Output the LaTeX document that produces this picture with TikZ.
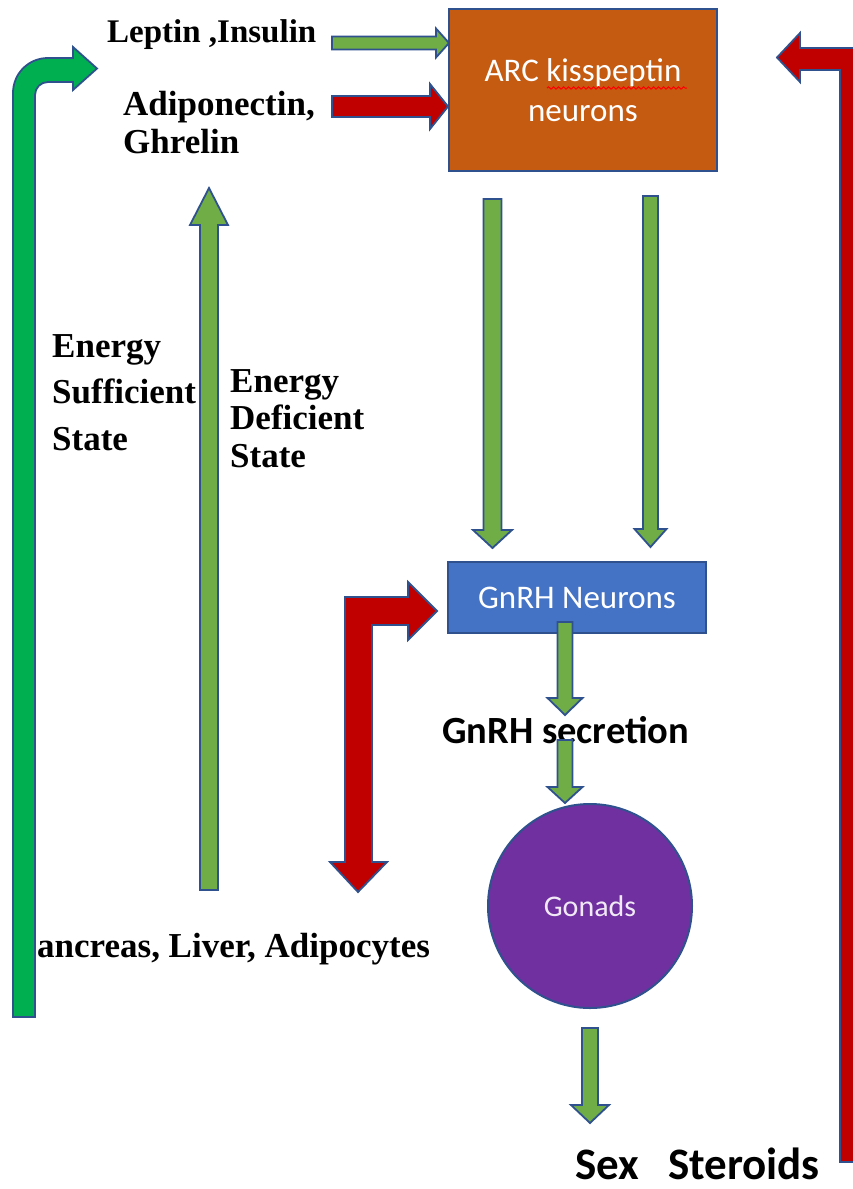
\documentclass[tikz,border=0pt]{standalone}
\usepackage{fontspec}
\setmainfont{Liberation Serif}
\newfontfamily\calib{Carlito}
\usetikzlibrary{decorations.pathmorphing}
\definecolor{edge}{HTML}{2F528F}
\definecolor{lgreen}{HTML}{70AD47}
\definecolor{bgreen}{HTML}{00B050}
\definecolor{dred}{HTML}{C00000}
\definecolor{orng}{HTML}{C55A11}
\definecolor{gblue}{HTML}{4472C4}
\definecolor{purp}{HTML}{7030A0}
\newcommand\vblock[7]{% style, x, ytail, ytip, shaft half, head half, head len
  \pgfmathsetmacro\myhb{#4-#7*sign(#4-#3)}%
  \draw[#1] (#2-#5,#3) -- (#2-#5,\myhb) -- (#2-#6,\myhb) -- (#2,#4) -- (#2+#6,\myhb) -- (#2+#5,\myhb) -- (#2+#5,#3) -- cycle;}
\newcommand\hblock[7]{% style, y, xtail, xtip, shaft half, head half, head len
  \pgfmathsetmacro\myhb{#4-#7*sign(#4-#3)}%
  \draw[#1] (#3,#2-#5) -- (\myhb,#2-#5) -- (\myhb,#2-#6) -- (#4,#2) -- (\myhb,#2+#6) -- (\myhb,#2+#5) -- (#3,#2+#5) -- cycle;}
\begin{document}
\begin{tikzpicture}[x=1pt,y=-1pt,
  garr/.style={fill=lgreen, draw=edge, line width=1.8pt, line join=miter},
  barr/.style={fill=bgreen, draw=edge, line width=1.8pt, line join=miter},
  rarr/.style={fill=dred, draw=edge, line width=1.8pt, line join=miter},
  serif/.style={inner sep=0pt, anchor=base west, align=left, text=black},
  boxtext/.style={text=white, font=\calib\fontsize{33}{40}\selectfont, align=center}]
\useasboundingbox[fill=white] (0,0) rectangle (853,1189);

% boxes
\node[boxtext, draw=edge, line width=2pt, fill=orng, minimum width=268pt, minimum height=162pt, inner sep=0pt] (arc) at (583,90) {ARC kisspeptin\\neurons};
\draw[red, line width=1pt, decorate, decoration={snake, amplitude=1.2pt, segment length=5pt}] (547,88) -- (687,88);
\node[boxtext, draw=edge, line width=2pt, fill=gblue, minimum width=258pt, minimum height=71pt, inner sep=0pt] (gnrh) at (577,597.5) {GnRH Neurons};
\node[circle, draw=edge, line width=2pt, fill=purp, minimum size=204pt, inner sep=0pt, text={white!90!purp}, font=\calib\fontsize{30}{32}\selectfont] (gon) at (590,906) {Gonads};

% texts (anchor = baseline of the last line)
\node[serif, font=\bfseries\fontsize{33}{38}\selectfont] (lep) at (107,42) {Leptin ,Insulin};
\node[serif, font=\bfseries\fontsize{35}{38}\selectfont] (adi) at (123,153) {Adiponectin,\\Ghrelin};
\node[serif, font=\bfseries\fontsize{35}{46.5}\selectfont] (suf) at (52,450) {Energy\\Sufficient\\State};
\node[serif, font=\bfseries\fontsize{35}{37.5}\selectfont] (def) at (230,467) {Energy\\Deficient\\State};
\node[serif, font=\bfseries\fontsize{35}{38}\selectfont] (pan) at (37,957) {ancreas, Liver, Adipocytes};
\node[serif, font=\calib\bfseries\fontsize{38.5}{40}\selectfont] (sec) at (442,743) {GnRH secretion};
\node[serif, font=\calib\bfseries\fontsize{45}{48}\selectfont] (sex) at (575,1179) {Sex\hspace{29pt}Steroids};

% block arrows
\hblock{garr}{43}{332}{449}{6.5}{14.5}{13}
\hblock{rarr}{106.5}{332}{448}{10.5}{22.5}{18}
\vblock{garr}{209}{890}{188}{9}{19}{37}
\vblock{garr}{492.5}{199}{548}{9}{19.5}{18}
\vblock{garr}{650.5}{196}{547}{7.5}{16}{18}
\vblock{garr}{565}{622}{715}{7.5}{17.5}{17}
\vblock{garr}{565}{740}{803}{7.5}{17.5}{16}
\vblock{garr}{590}{1028}{1123}{8}{19}{18}

% left bent green arrow
\draw[barr] (13,1017) -- (13,93) .. controls (13,73.7) and (28.3,58) .. (48,58) -- (73,58) -- (73,47) -- (97,68.5) -- (73,90) -- (73,82) -- (48,82) .. controls (40.8,82) and (35,87.8) .. (35,95) -- (35,1017) -- cycle;

% red bent arrow near GnRH
\draw[rarr] (358,892) -- (387,862) -- (372,862) -- (372,625) -- (408,625) -- (408,640) -- (437,611) -- (408,582) -- (408,597) -- (345,597) -- (345,862) -- (330,862) -- cycle;

% right red feedback arrow
\draw[rarr] (840,1162) -- (840,70) -- (800,70) -- (800,82) -- (777,57.5) -- (800,33) -- (800,48) -- (866,48) -- (866,1162) -- cycle;
\end{tikzpicture}
\end{document}
